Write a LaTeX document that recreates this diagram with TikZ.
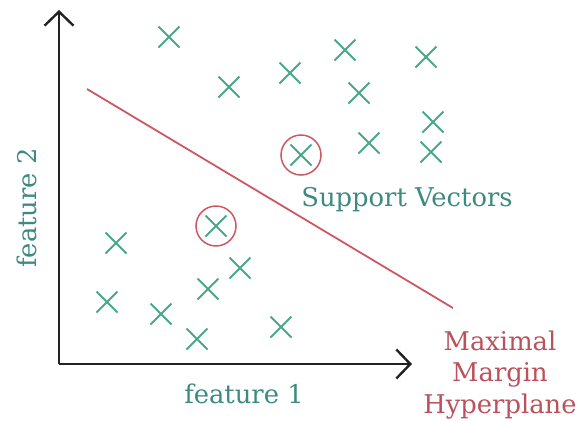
\documentclass[tikz,border=0pt]{standalone}
\usepackage{fontspec}
\setmainfont{DejaVu Serif}
\usepackage{xcolor}
\usetikzlibrary{arrows.meta,positioning,shapes.misc}

\definecolor{ptgreen}{HTML}{4AA888}
\definecolor{labteal}{HTML}{3D8A82}
\definecolor{hypred}{HTML}{CC5862}
\definecolor{hyptext}{HTML}{B9525C}
\definecolor{axisgray}{HTML}{222222}

\begin{document}
\begin{tikzpicture}[x=1pt, y=-1pt, >={Straight Barb[length=14pt,width=29pt]},
  pt/.style={cross out,draw=ptgreen,line width=2pt,inner sep=0pt,minimum size=19pt},
  sv/.style={circle,draw=hypred,line width=1.5pt,inner sep=0pt,minimum size=40pt},
  lab/.style={font=\fontsize{25.8}{31.5}\selectfont}]
  \useasboundingbox (0,0) rectangle (582,421);
  % Axes
  \coordinate (o) at (59,364);
  \coordinate (ytip) at (59,10);
  \coordinate (xtip) at (412,364);
  \draw[->,axisgray,line width=2.4pt] (o) -- (ytip);
  \draw[->,axisgray,line width=2.4pt] (o) -- (xtip);
  \node[lab,text=labteal] (xlab) at (244,394) {feature 1};
  \node[lab,text=labteal,rotate=90] (ylab) at (27,208) {feature 2};
  % Upper class
  \node[pt] (a1) at (169,37) {};
  \node[pt] (a2) at (229,87) {};
  \node[pt] (a3) at (290,73) {};
  \node[pt] (a4) at (345,50) {};
  \node[pt] (a5) at (359,93) {};
  \node[pt] (a6) at (426,57) {};
  \node[pt] (a7) at (433,122) {};
  \node[pt] (a8) at (369,143) {};
  \node[pt] (a9) at (431,152) {};
  \node[pt] (a10) at (301,155) {};
  % Lower class
  \node[pt] (b1) at (216,226) {};
  \node[pt] (b2) at (116,243) {};
  \node[pt] (b3) at (240,268) {};
  \node[pt] (b4) at (208,289) {};
  \node[pt] (b5) at (107,302) {};
  \node[pt] (b6) at (161,314) {};
  \node[pt] (b7) at (197,339) {};
  \node[pt] (b8) at (281,327) {};
  % Support vectors
  \node[sv] (sv1) at (a10) {};
  \node[sv] (sv2) at (b1) {};
  \node[lab,text=labteal] (svlab) at (407,200) {Support Vectors};
  % Hyperplane
  \coordinate (h1) at (87,89);
  \coordinate (h2) at (453,308);
  \draw[hypred,line width=1.8pt] (h1) -- (h2);
  \node[lab,text=hyptext,align=center] (hlab) at (500,375) {Maximal\\Margin\\Hyperplane};
\end{tikzpicture}
\end{document}
